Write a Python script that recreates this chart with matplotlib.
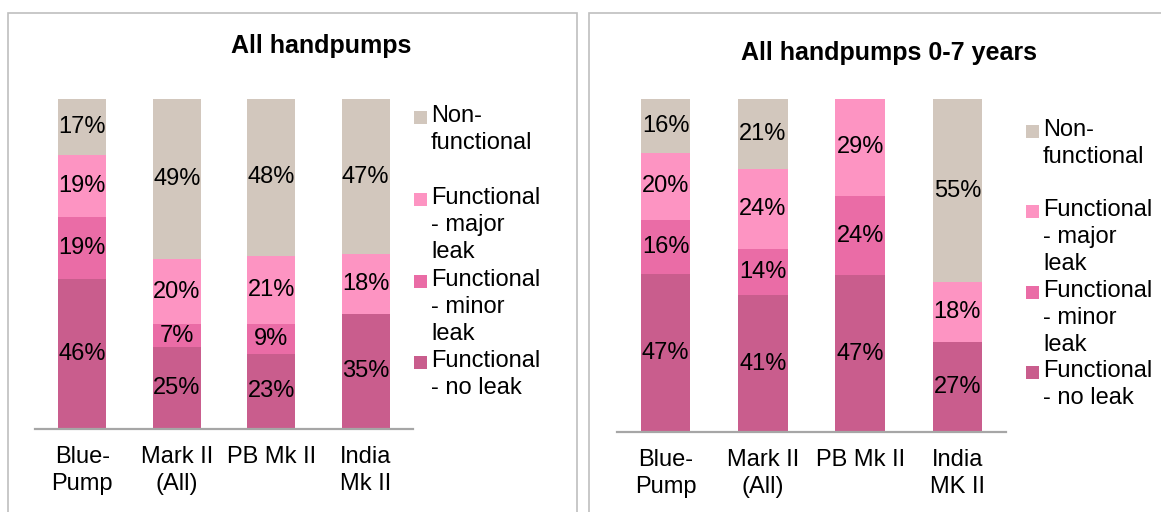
import matplotlib
matplotlib.use("Agg")
import matplotlib.pyplot as plt
from matplotlib.patches import Rectangle

plt.rcParams['font.family'] = ['Liberation Sans', 'DejaVu Sans']

W, H = 1161, 512

categories_all = ["Blue-\nPump", "Mark II\n(All)", "PB Mk II", "India\nMk II"]
categories_young = ["Blue-\nPump", "Mark II\n(All)", "PB Mk II", "India\nMK II"]

series = ["Functional\n- no leak", "Functional\n- minor\nleak", "Functional\n- major\nleak", "Non-\nfunctional"]
colors = ["#C95D8D", "#EA6CA6", "#FD94C2", "#D2C7BD"]

# percentages, bottom to top: no leak, minor leak, major leak, non-functional
all_no_leak = [46, 25, 23, 35]
all_minor = [19, 7, 9, 0]
all_major = [19, 20, 21, 18]
all_nonfunc = [17, 49, 48, 47]

young_no_leak = [47, 41, 47, 27]
young_minor = [16, 14, 24, 0]
young_major = [20, 24, 29, 18]
young_nonfunc = [16, 21, 0, 55]


def px(x, y):
    return x / W, 1 - y / H


def draw_panel(fig, rect, title, title_xy, cats, data, legend_x, legend_y, label_pad):
    ax = fig.add_axes(rect)
    ax.patch.set_alpha(0)
    n = len(cats)
    totals = [sum(d[i] for d in data) for i in range(n)]
    bottoms = [0.0] * n
    for vals, col in zip(data, colors):
        h = [v / t for v, t in zip(vals, totals)]
        ax.bar(range(n), h, width=0.51, bottom=bottoms, color=col, edgecolor="none")
        for i, v in enumerate(vals):
            if v > 0:
                ax.text(i, bottoms[i] + h[i] / 2, f"{v}%", ha="center", va="center", fontsize=17)
        bottoms = [b + hh for b, hh in zip(bottoms, h)]
    ax.set_xlim(-0.5, n - 0.5)
    ax.set_ylim(0, 1)
    ax.set_yticks([])
    ax.set_xticks(range(n))
    ax.set_xticklabels(cats, fontsize=17, linespacing=1.3)
    ax.tick_params(axis="x", length=0, pad=label_pad)
    for s in ["top", "right", "left"]:
        ax.spines[s].set_visible(False)
    ax.spines["bottom"].set_color("#A6A6A6")
    ax.spines["bottom"].set_linewidth(1.6)

    fx, fy = px(*title_xy)
    fig.text(fx, fy, title, ha="center", va="center", fontsize=18, fontweight="bold")

    # legend, top entry first
    for k, (lab, col) in enumerate(reversed(list(zip(series, colors)))):
        y = legend_y[k]
        mx, my = px(legend_x - 17, y + 6)
        fig.patches.append(Rectangle((mx, my), 13 / W, 13 / H, transform=fig.transFigure,
                                     facecolor=col, edgecolor="none"))
        tx, ty = px(legend_x, y - 13)
        fig.text(tx, ty, lab, ha="left", va="top", fontsize=17, linespacing=1.3)
    return ax


fig = plt.figure(figsize=(W / 100, H / 100), dpi=100)

# panel frames
for x0, x1 in [(8, 577), (589, 1175)]:
    fx, fy = px(x0, 530)
    fig.patches.append(Rectangle((fx, fy), (x1 - x0) / W, (530 - 13) / H, transform=fig.transFigure,
                                 facecolor="none", edgecolor="#BFBFBF", linewidth=1.2))

draw_panel(fig, [35 / W, 83 / H, 378 / W, 330 / H], "All handpumps", (321, 46),
           categories_all, [all_no_leak, all_minor, all_major, all_nonfunc],
           431, [118, 200, 282, 363], 12)

draw_panel(fig, [617 / W, 80 / H, 389 / W, 333 / H], "All handpumps 0-7 years", (889, 53),
           categories_young, [young_no_leak, young_minor, young_major, young_nonfunc],
           1043, [132, 212, 293, 373], 12)

fig.savefig("out.png", dpi=100)
